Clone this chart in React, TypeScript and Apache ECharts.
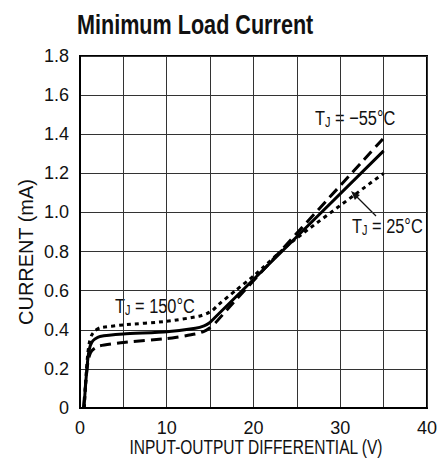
import React, { useEffect, useRef } from "react";
import * as echarts from "echarts";

// ---- data ----
const xTicks = [0, 10, 20, 30, 40];

const v25 = [0.45, 0.7, 0.9, 1.1, 1.35, 1.7, 2.3, 5, 10, 13.3, 14.3, 14.9, 15.5, 35];
const i25 = [0, 0.15, 0.25, 0.305, 0.335, 0.352, 0.366, 0.378, 0.39, 0.408, 0.42, 0.435, 0.46, 1.315];

const vM55 = [0.4, 0.7, 0.9, 1.1, 1.35, 1.7, 2.3, 5, 10, 13.3, 14.3, 14.9, 15.6, 17, 35];
const iM55 = [0, 0.15, 0.23, 0.27, 0.292, 0.306, 0.318, 0.335, 0.355, 0.378, 0.392, 0.408, 0.435, 0.505, 1.38];

const v150 = [0.5, 0.7, 0.9, 1.1, 1.35, 1.7, 2.3, 5, 10, 13.7, 14.6, 15.3, 16, 18, 20, 24.3, 35];
const i150 = [0, 0.17, 0.28, 0.34, 0.373, 0.394, 0.41, 0.425, 0.443, 0.469, 0.483, 0.5, 0.53, 0.603, 0.675, 0.845, 1.2];

const pairs = (xs: number[], ys: number[]) => xs.map((x, k) => [x, ys[k]]);

const FONT = '"Liberation Sans", Arial, sans-serif';
const SX = 0.78;
const INK = "#111";

function ctext(x: number, y: number, text: string, size: number, opts: any = {}) {
  return {
    type: "text",
    x,
    y,
    scaleX: opts.scaleX ?? SX,
    rotation: opts.rotation ?? 0,
    silent: true,
    style: {
      text,
      font: `${opts.weight ?? "normal"} ${size}px ${FONT}`,
      fill: INK,
      textAlign: opts.align ?? "left",
      textVerticalAlign: "middle",
    },
  };
}

function tj(x: number, yc: number, rest: string) {
  const T = 21;
  const J = 14;
  const wT = 0.611 * T * SX;
  const wJ = 0.5 * J * SX;
  return [
    ctext(x, yc, "T", T),
    ctext(x + wT, yc + 5.5, "J", J),
    ctext(x + wT + wJ, yc, rest, T),
  ];
}

export default function App() {
  const ref = useRef<HTMLDivElement>(null);
  useEffect(() => {
    if (!ref.current) return;
    const chart = echarts.init(ref.current, undefined, { renderer: "svg" });
    const lineCommon = { type: "line", showSymbol: false, smooth: 0.2 };
    const option: any = {
      animation: false,
      backgroundColor: "#fff",
      grid: {
        left: 80,
        right: 8,
        top: 56,
        bottom: 51,
        show: true,
        borderColor: "#000",
        borderWidth: 2,
        backgroundColor: "transparent",
      },
      xAxis: {
        type: "value",
        min: 0,
        max: 40,
        interval: 5,
        axisLine: { show: true, lineStyle: { color: "#000", width: 2 } },
        axisTick: { show: false },
        splitLine: { show: true, lineStyle: { color: "#333", width: 1 } },
        axisLabel: {
          margin: 11,
          fontSize: 18,
          fontFamily: FONT,
          color: INK,
          formatter: (v: number) => (xTicks.includes(v) ? String(v) : ""),
        },
      },
      yAxis: {
        type: "value",
        min: 0,
        max: 1.8,
        interval: 0.2,
        axisLine: { show: true, lineStyle: { color: "#000", width: 2 } },
        axisTick: { show: false },
        splitLine: { show: true, lineStyle: { color: "#333", width: 1 } },
        axisLabel: {
          margin: 11,
          fontSize: 18,
          fontFamily: FONT,
          color: INK,
          formatter: (v: number) => (Math.abs(v) < 1e-9 ? "0" : v.toFixed(1)),
        },
      },
      series: [
        {
          ...lineCommon,
          name: "TJ = 150°C",
          data: pairs(v150, i150),
          lineStyle: { color: "#000", width: 3, type: [4, 4] },
          z: 3,
        },
        {
          ...lineCommon,
          name: "TJ = -55°C",
          data: pairs(vM55, iM55),
          lineStyle: { color: "#000", width: 3, type: [11, 6] },
          z: 4,
        },
        {
          ...lineCommon,
          name: "TJ = 25°C",
          data: pairs(v25, i25),
          lineStyle: { color: "#000", width: 3 },
          z: 5,
        },
      ],
      graphic: [
        ctext(77, 25, "Minimum Load Current", 27, { weight: "bold", scaleX: 0.8 }),
        ctext(25, 252, "CURRENT (mA)", 21, { align: "center", rotation: Math.PI / 2, scaleX: 0.95 }),
        ctext(256, 447, "INPUT-OUTPUT DIFFERENTIAL (V)", 20, { align: "center", scaleX: 0.775 }),
        ...tj(315, 117.5, " = \u221255\u00b0C"),
        ...tj(352, 225.5, " = 25\u00b0C"),
        ...tj(115, 305.5, " = 150\u00b0C"),
        {
          type: "line",
          silent: true,
          shape: { x1: 376, y1: 216, x2: 356, y2: 196 },
          style: { stroke: INK, lineWidth: 1.3 },
        },
        {
          type: "polygon",
          silent: true,
          shape: { points: [[351, 191], [354.9, 199.9], [359.9, 194.9]] },
          style: { fill: INK },
        },
      ],
    };
    chart.setOption(option);
    return () => chart.dispose();
  }, []);
  return (
    <div
      ref={ref}
      style={{ position: "fixed", left: 0, top: 0, width: 440, height: 459, background: "#fff" }}
    />
  );
}
